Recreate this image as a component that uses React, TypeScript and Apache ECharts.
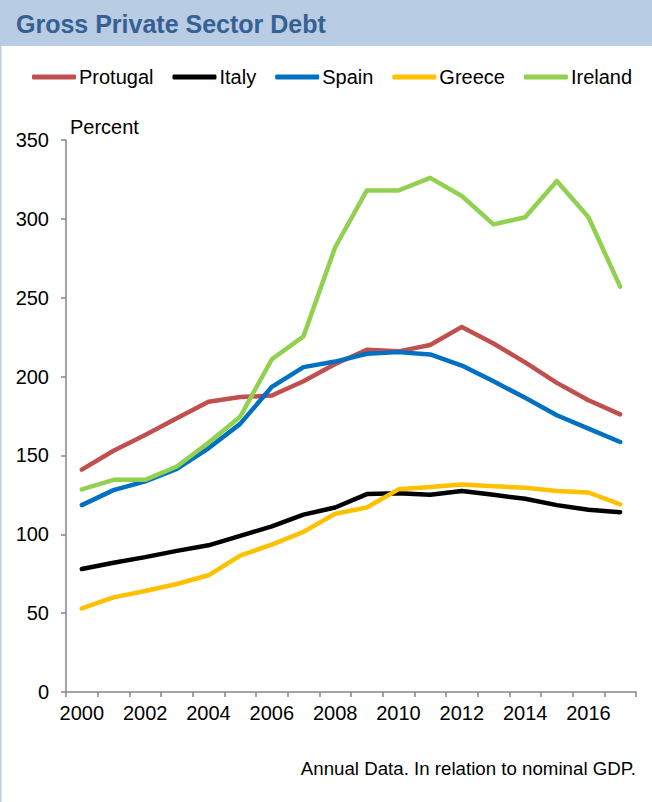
import React, { useEffect, useRef } from "react";
import * as echarts from "echarts";

const years = ["2000","2001","2002","2003","2004","2005","2006","2007","2008","2009","2010","2011","2012","2013","2014","2015","2016","2017"];
const portugal = [141,153,163,173.5,184,187,188,197,208,217,216,220,231.5,221,209,196,185,176];
const italy = [78,82,85.5,89.5,93,99,105,112.5,117,125.5,126,125,127.5,125,122.5,118.5,115.5,114];
const spain = [118.5,128,133.5,141.5,154.5,170,193.5,206,209.5,214.5,215.5,214,207,197,186.5,175.5,167,158.5];
const greece = [53,60,64,68.5,74,86.5,93.5,101.5,113,117,128.5,130,131.5,130.5,129.5,127.5,126.5,119];
const ireland = [128.5,134.5,134.5,143,158,174.5,211,225.5,282,318,318,326,314.5,296.5,301,324,301,257];

const seriesNames = ["Protugal", "Italy", "Spain", "Greece", "Ireland"];
const seriesData = [portugal, italy, spain, greece, ireland];
const seriesColors = ["#C0504D", "#000000", "#0070C0", "#FFC000", "#92D050"];

const FONT = "'Liberation Sans', Arial, sans-serif";

export default function App() {
  const ref = useRef<HTMLDivElement>(null);
  useEffect(() => {
    if (!ref.current) return;
    const chart = echarts.init(ref.current, undefined, { renderer: "svg" });
    chart.setOption({
      animation: false,
      backgroundColor: "#ffffff",
      textStyle: { fontFamily: FONT },
      grid: { left: 66, right: 16, top: 140, bottom: 110 },
      legend: {
        data: seriesNames.map((n, i) => ({ name: n, icon: "roundRect", itemStyle: { color: seriesColors[i] } })),
        left: 27,
        top: 62,
        itemWidth: 44,
        itemHeight: 5,
        itemGap: 19,
        textStyle: { fontSize: 20, color: "#000", fontFamily: FONT, padding: [0, 0, 0, -2] },
        selectedMode: false,
      },
      xAxis: {
        type: "category",
        data: years,
        boundaryGap: true,
        axisLine: { lineStyle: { color: "#868686", width: 1.5 } },
        axisTick: { show: true, interval: 0, length: 5, lineStyle: { color: "#868686", width: 1.5 } },
        axisLabel: { interval: 1, fontSize: 20, color: "#000", margin: 11, fontFamily: FONT },
        splitLine: { show: false },
      },
      yAxis: {
        type: "value",
        min: 0,
        max: 350,
        interval: 50,
        axisLine: { show: true, lineStyle: { color: "#868686", width: 1.5 } },
        axisTick: { show: true, length: 5, lineStyle: { color: "#868686", width: 1.5 } },
        axisLabel: { fontSize: 20, color: "#000", margin: 17, fontFamily: FONT },
        splitLine: { show: false },
      },
      graphic: [
        { type: "rect", left: 0, top: 0, shape: { width: 652, height: 46 }, style: { fill: "#B8CCE4" }, z: 0 },
        { type: "rect", left: 0, top: 0, shape: { width: 1.5, height: 802 }, style: { fill: "#B8CCE4" }, z: 0 },
        {
          type: "text", x: 16, y: 24,
          style: { text: "Gross Private Sector Debt", font: `bold 25px ${FONT}`, fill: "#376092", verticalAlign: "middle", align: "left" },
        },
        {
          type: "text", x: 70, y: 127,
          style: { text: "Percent", font: `20px ${FONT}`, fill: "#000", verticalAlign: "middle", align: "left" },
        },
        {
          type: "text", x: 636, y: 768,
          style: { text: "Annual Data. In relation to nominal GDP.", font: `18.7px ${FONT}`, fill: "#000", verticalAlign: "middle", align: "right" },
        },
      ],
      series: seriesNames.map((n, i) => ({
        name: n,
        type: "line",
        data: seriesData[i],
        showSymbol: false,
        symbol: "none",
        color: seriesColors[i],
        lineStyle: { color: seriesColors[i], width: 4.5, join: "round", cap: "round" },
        z: 2 + i,
      })),
    });
    return () => chart.dispose();
  }, []);
  return <div ref={ref} style={{ position: "fixed", left: 0, top: 0, width: 652, height: 802 }} />;
}
